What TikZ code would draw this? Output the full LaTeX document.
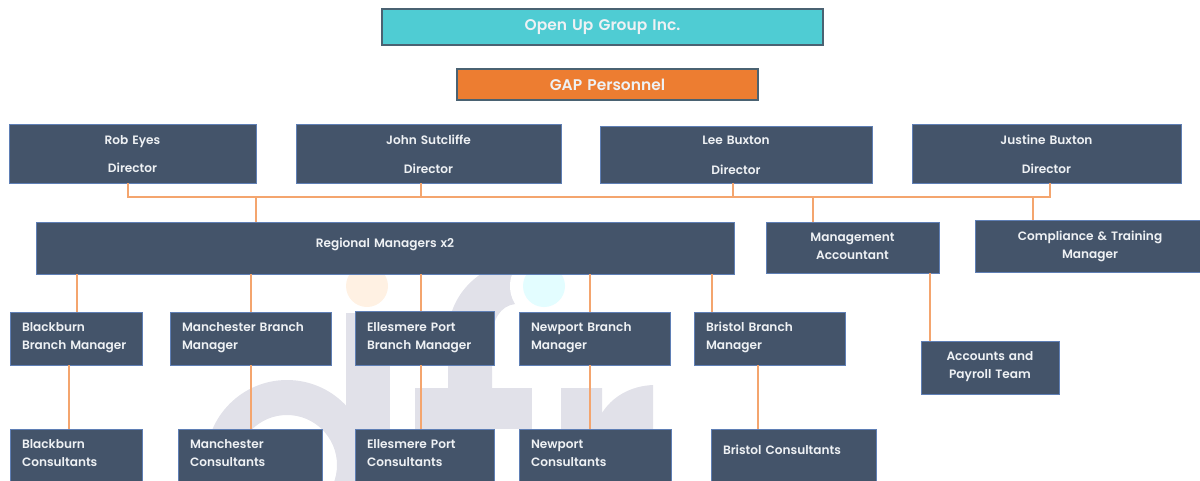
\documentclass[tikz,border=0pt]{standalone}
\usepackage{fontspec}
\setmainfont{Poppins}
\newfontfamily\boxfont{Poppins SemiBold}
\definecolor{boxfill}{HTML}{44546A}
\definecolor{boxline}{HTML}{5F7FB5}
\definecolor{tealfill}{HTML}{4FCCD3}
\definecolor{orangefill}{HTML}{ED7D31}
\definecolor{headline}{HTML}{4A6272}
\definecolor{linkcol}{HTML}{F4A56E}
\definecolor{wmgrey}{HTML}{E1E1E9}
\definecolor{wmorange}{HTML}{FFF1E3}
\definecolor{wmcyan}{HTML}{E3FDFF}
\definecolor{txt}{HTML}{EEF1F4}
\tikzset{
  basebox/.style={rectangle,outer sep=0pt,inner ysep=0pt,inner xsep=9pt,text=txt,line width=.75pt},
  staff/.style={basebox,draw=boxline,fill=boxfill,font=\boxfont\fontsize{9.1}{13.5}\selectfont},
  head/.style={basebox,draw=headline,line width=1.1pt,font=\boxfont\fontsize{11.6}{13.5}\selectfont,align=center},
  lefttext/.style={align=left},
  midtext/.style={align=center},
  tail/.style={execute at end node={\par\vspace{#1}}},
  conn/.style={draw=linkcol,line width=1pt}
}
% name, x1, y1, x2, y2, options, text (pixel box edges)
\newcommand\bx[7]{%
  \node[#6,minimum width={(#4-#2)*0.75pt},minimum height={(#5-#3)*0.75pt},
        text width={(#4-#2-24)*0.75pt}] (#1) at ({(#2+#4)/2},{(#3+#5)/2}) {#7};}
\begin{document}
\begin{tikzpicture}[x=0.75pt,y=-0.75pt]
\useasboundingbox (0,0) rectangle (1200,480);
\clip (0,0) rectangle (1200,480);
% watermark
\fill[wmgrey,even odd rule] (287,461) circle[radius=81] (287,465) circle[radius=50];
\fill[wmgrey] (346,313) rectangle (390,480);
\fill[wmgrey] (448,388) -- (448,335) .. controls (448,295) and (480,262) .. (525,260)
  -- (560,260) -- (560,300) -- (515,304) .. controls (500,306) and (492,320) .. (492,340) -- (492,388) -- cycle;
\fill[wmgrey] (415,388) rectangle (532,429);
\fill[wmgrey] (448,429) rectangle (492,480);
\fill[wmgrey] (561,388) -- (602,388) -- (602,413) .. controls (612,397) and (630,386) .. (653,385)
  -- (653,480) -- (561,480) -- cycle;
\fill[white] (544,286) circle[radius=34];
\fill[wmorange] (367,286) circle[radius=21];
\fill[wmcyan] (544,286) circle[radius=21];
% header
\bx{top}{382}{9}{823}{45}{head,fill=tealfill}{Open Up Group Inc.}
\bx{gap}{457}{69}{758}{100}{head,fill=orangefill}{GAP Personnel}
% directors
\bx{rob}{9}{124}{256}{183}{staff,midtext,tail=-1pt}{Rob Eyes\\[8pt]Director}
\bx{john}{296}{124}{561}{183}{staff,midtext,tail=-1pt}{John Sutcliffe\\[8pt]Director}
\bx{lee}{600}{126}{872}{183}{staff,midtext,tail=-1pt}{Lee Buxton\\[9pt]Director}
\bx{jus}{912}{124}{1181}{183}{staff,midtext,tail=-1pt}{Justine Buxton\\[8pt]Director}
% second level
\bx{rm}{36}{222}{734}{274}{staff,midtext,tail=6pt}{Regional Managers x2}
\bx{ma}{766}{222}{939}{273}{staff,midtext,tail=2pt}{Management\\Accountant}
\bx{ct}{975}{220}{1205}{272}{staff,midtext,tail=0pt}{Compliance \& Training\\Manager}
% branch managers
\bx{bbm}{10}{312}{142}{365}{staff,lefttext,tail=1pt}{Blackburn\\Branch Manager}
\bx{mbm}{170}{312}{331}{365}{staff,lefttext,tail=1pt}{Manchester Branch\\Manager}
\bx{ebm}{355}{311}{494}{365}{staff,lefttext,tail=1pt}{Ellesmere Port\\Branch Manager}
\bx{nbm}{519}{312}{670}{365}{staff,lefttext,tail=1pt}{Newport Branch\\Manager}
\bx{sbm}{694}{312}{845}{365}{staff,lefttext,tail=1pt}{Bristol Branch\\Manager}
\bx{apt}{921}{341}{1059}{394}{staff,midtext,tail=2pt}{Accounts and\\Payroll Team}
% consultants
\bx{bbc}{10}{429}{142}{482}{staff,lefttext,tail=4pt}{Blackburn\\Consultants}
\bx{mbc}{178}{429}{322}{482}{staff,lefttext,tail=4pt}{Manchester\\Consultants}
\bx{ebc}{355}{429}{494}{482}{staff,lefttext,tail=4pt}{Ellesmere Port\\Consultants}
\bx{nbc}{519}{429}{671}{482}{staff,lefttext,tail=3.3pt}{Newport\\Consultants}
\bx{sbc}{711}{429}{876}{482}{staff,lefttext,tail=8pt}{Bristol Consultants}
% bus
\coordinate (busl) at (128,197);
\coordinate (busr) at (1050,197);
\draw[conn] (128,0 |- rob.south) -- (busl) -- (busr) -- (1050,0 |- jus.south);
\draw[conn] (421,0 |- john.south) -- (421,0 |- busl);
\draw[conn] (733,0 |- lee.south) -- (733,0 |- busl);
\draw[conn] (256,0 |- busl) -- (256,0 |- rm.north);
\draw[conn] (813,0 |- busl) -- (813,0 |- ma.north);
\draw[conn] (1033,0 |- busl) -- (1033,0 |- ct.north);
% drops from regional managers
\draw[conn] (77,0 |- rm.south) -- (77,0 |- bbm.north);
\draw[conn] (251,0 |- rm.south) -- (251,0 |- mbm.north);
\draw[conn] (421,0 |- rm.south) -- (421,0 |- ebm.north);
\draw[conn] (590,0 |- rm.south) -- (590,0 |- nbm.north);
\draw[conn] (712,0 |- rm.south) -- (712,0 |- sbm.north);
\draw[conn] (930,0 |- ma.south) -- (930,0 |- apt.north);
% managers to consultants
\draw[conn] (69,0 |- bbm.south) -- (69,0 |- bbc.north);
\draw[conn] (251,0 |- mbm.south) -- (251,0 |- mbc.north);
\draw[conn] (421,0 |- ebm.south) -- (421,0 |- ebc.north);
\draw[conn] (590,0 |- nbm.south) -- (590,0 |- nbc.north);
\draw[conn] (758,0 |- sbm.south) -- (758,0 |- sbc.north);
\end{tikzpicture}
\end{document}
